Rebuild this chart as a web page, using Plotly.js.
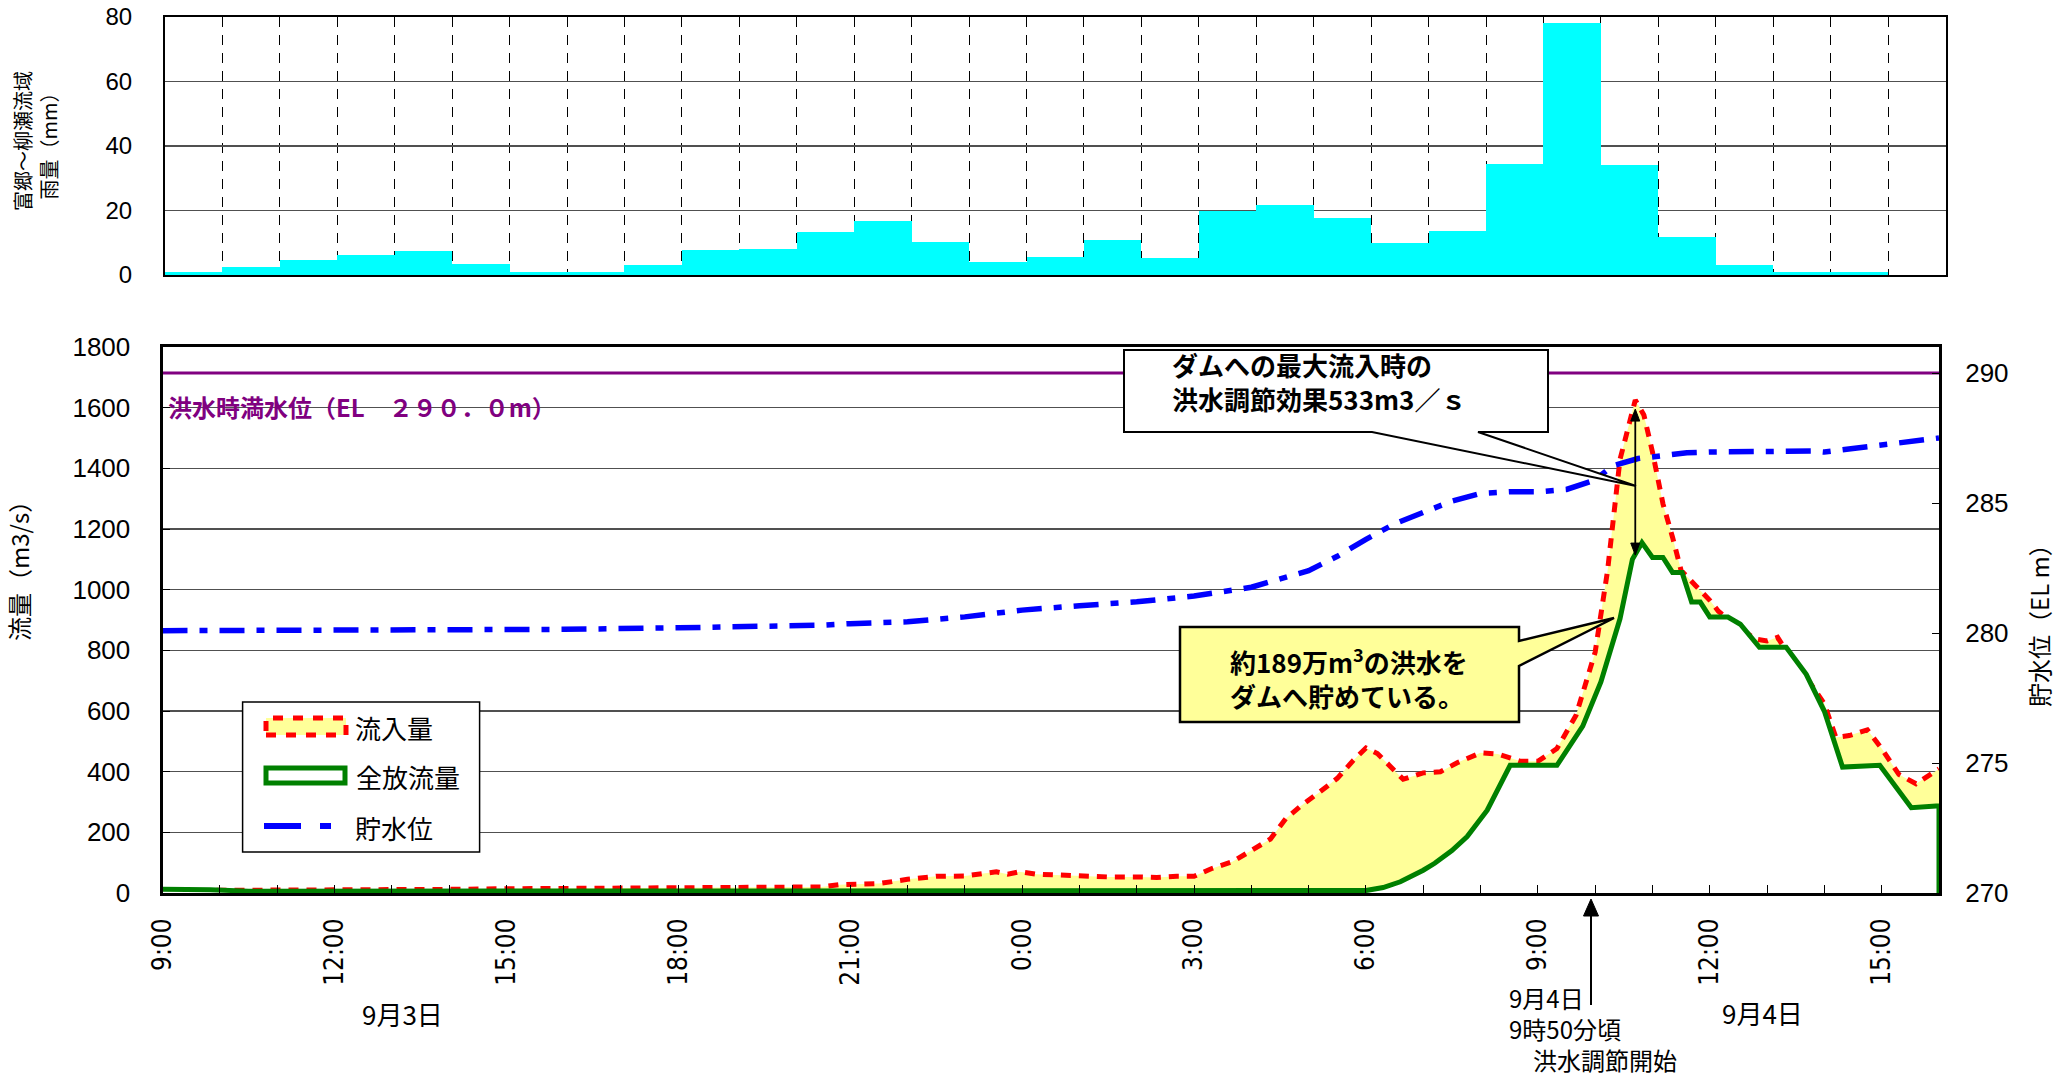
<!DOCTYPE html>
<html><head><meta charset="utf-8">
<script src="https://cdn.plot.ly/plotly-3.0.1.min.js"></script>
<style>html,body{margin:0;padding:0;background:#fff}#chart{width:2071px;height:1080px}</style>
</head><body><div id="chart"></div>
<script>
// ---------- data ----------
const rainTime = ["2005-09-03 09:00","2005-09-03 10:00","2005-09-03 11:00","2005-09-03 12:00","2005-09-03 13:00","2005-09-03 14:00","2005-09-03 15:00","2005-09-03 16:00","2005-09-03 17:00","2005-09-03 18:00","2005-09-03 19:00","2005-09-03 20:00","2005-09-03 21:00","2005-09-03 22:00","2005-09-03 23:00","2005-09-04 00:00","2005-09-04 01:00","2005-09-04 02:00","2005-09-04 03:00","2005-09-04 04:00","2005-09-04 05:00","2005-09-04 06:00","2005-09-04 07:00","2005-09-04 08:00","2005-09-04 09:00","2005-09-04 10:00","2005-09-04 11:00","2005-09-04 12:00","2005-09-04 13:00","2005-09-04 14:00","2005-09-04 15:00"];
const rainMm = [1,2.5,4.8,6.1,7.5,3.5,1,1,3,7.9,8.1,13.3,16.8,10.3,4.1,5.6,11,5.2,20,21.6,17.7,9.9,13.5,34.5,78,34.2,11.8,3,1,1,0];

const inflowTime = ["2005-09-03 09:00","2005-09-03 10:00","2005-09-03 11:00","2005-09-03 12:00","2005-09-03 13:00","2005-09-03 14:00","2005-09-03 15:00","2005-09-03 16:00","2005-09-03 17:00","2005-09-03 18:00","2005-09-03 19:00","2005-09-03 20:00","2005-09-03 20:30","2005-09-03 20:48","2005-09-03 21:00","2005-09-03 21:30","2005-09-03 22:00","2005-09-03 22:30","2005-09-03 23:00","2005-09-03 23:18","2005-09-03 23:33","2005-09-03 23:45","2005-09-03 23:57","2005-09-04 00:15","2005-09-04 00:36","2005-09-04 01:00","2005-09-04 01:30","2005-09-04 02:00","2005-09-04 02:21","2005-09-04 02:42","2005-09-04 03:00","2005-09-04 03:18","2005-09-04 03:40","2005-09-04 04:00","2005-09-04 04:20","2005-09-04 04:36","2005-09-04 04:51","2005-09-04 05:12","2005-09-04 05:30","2005-09-04 05:47","2005-09-04 06:00","2005-09-04 06:12","2005-09-04 06:27","2005-09-04 06:39","2005-09-04 07:00","2005-09-04 07:18","2005-09-04 07:36","2005-09-04 08:00","2005-09-04 08:18","2005-09-04 08:42","2005-09-04 09:00","2005-09-04 09:20","2005-09-04 09:40","2005-09-04 10:00","2005-09-04 10:13","2005-09-04 10:26","2005-09-04 10:42","2005-09-04 10:51","2005-09-04 11:00","2005-09-04 11:11","2005-09-04 11:21","2005-09-04 11:30","2005-09-04 11:45","2005-09-04 12:00","2005-09-04 12:09","2005-09-04 12:28","2005-09-04 12:48","2005-09-04 13:00","2005-09-04 13:11","2005-09-04 13:21","2005-09-04 13:39","2005-09-04 14:00","2005-09-04 14:12","2005-09-04 14:26","2005-09-04 14:45","2005-09-04 15:00","2005-09-04 15:18","2005-09-04 15:36","2005-09-04 16:00"];
const inflowQ = [8,8,10,10,11,12,14,15,15,16,17,17,20,27,28,31,45,55,56,62,70,62,70,62,59,56,53,53,51,55,55,80,103,140,178,245,285,334,378,438,478,460,410,375,396,400,430,462,458,434,434,476,586,794,1063,1429,1625,1576,1454,1283,1173,1063,1014,965,929,880,837,831,843,794,721,623,513,519,538,476,391,360,409];

const outflowTime = ["2005-09-03 09:00","2005-09-03 09:50","2005-09-03 10:30","2005-09-04 06:00","2005-09-04 06:18","2005-09-04 06:36","2005-09-04 07:00","2005-09-04 07:12","2005-09-04 07:30","2005-09-04 07:46","2005-09-04 08:07","2005-09-04 08:18","2005-09-04 08:31","2005-09-04 09:20","2005-09-04 09:47","2005-09-04 10:06","2005-09-04 10:26","2005-09-04 10:39","2005-09-04 10:49","2005-09-04 11:00","2005-09-04 11:11","2005-09-04 11:21","2005-09-04 11:31","2005-09-04 11:41","2005-09-04 11:50","2005-09-04 12:00","2005-09-04 12:19","2005-09-04 12:32","2005-09-04 12:52","2005-09-04 13:20","2005-09-04 13:41","2005-09-04 14:00","2005-09-04 14:19","2005-09-04 14:58","2005-09-04 15:31","2005-09-04 15:57","2005-09-04 16:00","2005-09-04 16:00"];
const outflowQ = [12,11,6,8,18,37,75,98,140,186,273,345,421,421,550,696,904,1100,1155,1106,1106,1057,1057,959,959,910,910,886,810,810,721,599,415,421,281,287,287,0];

const levelTime = ["2005-09-03 09:00","2005-09-03 13:30","2005-09-03 14:00","2005-09-03 16:00","2005-09-03 18:00","2005-09-03 19:30","2005-09-03 20:30","2005-09-03 21:00","2005-09-03 22:00","2005-09-03 23:00","2005-09-04 00:00","2005-09-04 01:00","2005-09-04 02:00","2005-09-04 03:00","2005-09-04 04:00","2005-09-04 05:00","2005-09-04 05:30","2005-09-04 06:00","2005-09-04 06:30","2005-09-04 07:00","2005-09-04 07:30","2005-09-04 08:00","2005-09-04 08:30","2005-09-04 09:00","2005-09-04 09:30","2005-09-04 10:00","2005-09-04 10:18","2005-09-04 10:45","2005-09-04 11:00","2005-09-04 11:36","2005-09-04 12:00","2005-09-04 13:00","2005-09-04 13:48","2005-09-04 14:00","2005-09-04 15:00","2005-09-04 16:00"];
const levelEL = [280.09,280.09,280.12,280.14,280.2,280.25,280.3,280.36,280.43,280.62,280.88,281.05,281.2,281.42,281.76,282.4,282.95,283.6,284.2,284.64,285.07,285.37,285.43,285.43,285.52,285.89,286.43,286.71,286.79,286.93,286.96,287.0,287.0,286.96,287.24,287.5];

const fullLevelEL = 290;
const xTickVals = ["2005-09-03 09:00","2005-09-03 12:00","2005-09-03 15:00","2005-09-03 18:00","2005-09-03 21:00","2005-09-04 00:00","2005-09-04 03:00","2005-09-04 06:00","2005-09-04 09:00","2005-09-04 12:00","2005-09-04 15:00"];
const xTickText = ["9:00","12:00","15:00","18:00","21:00","0:00","3:00","6:00","9:00","12:00","15:00"];
const xRange = ["2005-09-03 09:00","2005-09-04 16:00"];
const arrowBottomQ = 1114;

// ---------- layout helpers ----------
const W = 2071, H = 1080;
const X = p => p / W;
const Y = p => 1 - p / H;
const JP = "Noto Sans CJK JP, Noto Sans CJK SC, sans-serif";
const NUM = "Liberation Sans, Arial, sans-serif";
const NARROW = "Liberation Sans Narrow, DejaVu Sans Condensed, Liberation Sans, sans-serif";

const traces = [
  {type:'bar', x: rainTime, y: rainMm, xaxis:'x2', yaxis:'y3', offset:0, width:3600000,
   marker:{color:'#00FFFF', line:{width:0}}, hoverinfo:'skip'},
  {type:'scatter', mode:'lines', x: inflowTime, y: inflowQ, xaxis:'x', yaxis:'y',
   fill:'tozeroy', fillcolor:'#FFFF99', line:{color:'#FF0000', width:5, dash:'10px,8px'}, hoverinfo:'skip'},
  {type:'scatter', mode:'lines', x: outflowTime, y: outflowQ, xaxis:'x', yaxis:'y',
   fill:'tozeroy', fillcolor:'#FFFFFF', line:{color:'#008000', width:5}, hoverinfo:'skip'},
  {type:'scatter', mode:'lines', x: levelTime, y: levelEL, xaxis:'x', yaxis:'y2',
   line:{color:'#0000FF', width:5.5, dash:'25px,12px,8px,12px'}, hoverinfo:'skip'}
];

// peak of inflow for the double arrow
let pk = 0;
inflowQ.forEach((v,i)=>{ if (v > inflowQ[pk]) pk = i; });
const pkT = inflowTime[pk], pkQ = inflowQ[pk];

const box1 = `M${X(1124)},${Y(350)} L${X(1548)},${Y(350)} L${X(1548)},${Y(432)} L${X(1478)},${Y(432)} L${X(1636)},${Y(486)} L${X(1372)},${Y(432)} L${X(1124)},${Y(432)} Z`;
const box2 = `M${X(1180)},${Y(627)} L${X(1519)},${Y(627)} L${X(1519)},${Y(641)} L${X(1614)},${Y(618)} L${X(1519)},${Y(666)} L${X(1519)},${Y(722)} L${X(1180)},${Y(722)} Z`;
const fcArrowHead = `M${X(1591)},${Y(899)} L${X(1583.5)},${Y(916)} L${X(1598.5)},${Y(916)} Z`;

const shapes = [
  {type:'line', xref:'x domain', x0:0, x1:1, yref:'y2', y0:fullLevelEL, y1:fullLevelEL, line:{color:'#800080', width:3}, layer:'below'},
  {type:'path', xref:'paper', yref:'paper', path: box1, fillcolor:'#FFFFFF', line:{color:'#000', width:2}},
  {type:'path', xref:'paper', yref:'paper', path: box2, fillcolor:'#FFFF99', line:{color:'#000', width:2.5}},
  // double arrow at the inflow peak
  {type:'line', xref:'x', x0:pkT, x1:pkT, yref:'y', y0:pkQ - 40, y1:arrowBottomQ + 20, line:{color:'#000', width:1.8}},
  {type:'path', xref:'x', xsizemode:'pixel', xanchor:pkT, yref:'y', ysizemode:'pixel', yanchor:pkQ,
   path:'M0,-9 L-4.5,-21 L4.5,-21 Z', fillcolor:'#000', line:{color:'#000', width:1}},
  {type:'path', xref:'x', xsizemode:'pixel', xanchor:pkT, yref:'y', ysizemode:'pixel', yanchor:arrowBottomQ,
   path:'M0,0 L-4.5,12 L4.5,12 Z', fillcolor:'#000', line:{color:'#000', width:1}},
  // flood-control-start arrow
  {type:'line', xref:'paper', yref:'paper', x0:X(1591), x1:X(1591), y0:Y(1005), y1:Y(912), line:{color:'#000', width:2}},
  {type:'path', xref:'paper', yref:'paper', path: fcArrowHead, fillcolor:'#000', line:{color:'#000', width:1}},
  // legend box
  {type:'rect', xref:'paper', yref:'paper', x0:X(242.6), x1:X(479.6), y0:Y(852), y1:Y(702), fillcolor:'#FFFFFF', line:{color:'#000', width:1.5}},
  {type:'rect', xref:'paper', yref:'paper', x0:X(266), x1:X(346), y0:Y(735), y1:Y(718), fillcolor:'#FFFF99', line:{color:'#FF0000', width:5, dash:'10px,10px'}},
  {type:'rect', xref:'paper', yref:'paper', x0:X(266), x1:X(345), y0:Y(783), y1:Y(768), fillcolor:'#FFFFFF', line:{color:'#008000', width:5}},
  {type:'line', xref:'paper', yref:'paper', x0:X(264), x1:X(301), y0:Y(826), y1:Y(826), line:{color:'#0000FF', width:6}},
  {type:'line', xref:'paper', yref:'paper', x0:X(320), x1:X(331), y0:Y(826), y1:Y(826), line:{color:'#0000FF', width:6}}
];

function txt(text, x, y, opts) {
  return Object.assign({xref:'paper', yref:'paper', x:X(x), y:Y(y), text:text, showarrow:false,
    xanchor:'left', yanchor:'middle', align:'left', font:{family:JP, size:26, color:'#000'}}, opts || {});
}
const bold26 = {family:JP, size:26, color:'#000', weight:'bold'};

const annotations = [
  txt('洪水時満水位（EL　２９０．０m）', 166, 406, {font:{family:JP, size:24, color:'#800080', weight:'bold'}}),
  txt('ダムへの最大流入時の<br>洪水調節効果533m3／ｓ', 1170, 382, {font:bold26}),
  txt('約189万m<sup>3</sup>の洪水を<br>ダムへ貯めている。', 1228, 677, {font:bold26}),
  txt('流入量', 353, 727),
  txt('全放流量', 354, 776),
  txt('貯水位', 353, 827),
  txt('9月3日', 402, 1013, {xanchor:'center'}),
  txt('9月4日', 1762, 1012, {xanchor:'center'}),
  txt('9月4日<br>9時50分頃<br>　洪水調節開始', 1507, 1079, {yanchor:'bottom', font:{family:JP, size:24, color:'#000'}}),
  txt('流量（m3/s）', 18, 565, {xanchor:'center', textangle:-90, font:{family:JP, size:24, color:'#000'}}),
  txt('貯水位（EL m）', 2038, 620, {xanchor:'center', textangle:-90, font:{family:JP, size:24, color:'#000'}}),
  txt('富郷～柳瀬流域<br>雨量（mm）', 36, 141, {xanchor:'center', align:'center', textangle:-90, font:{family:JP, size:20, color:'#000'}})
];

const layout = {
  width: W, height: H,
  margin: {l:0, r:0, t:0, b:0},
  paper_bgcolor:'#FFFFFF', plot_bgcolor:'rgba(0,0,0,0)',
  showlegend:false,
  font:{family:JP, color:'#000'},
  bargap:0,
  xaxis: {domain:[X(162.5), X(1939)], anchor:'y', type:'date', range:xRange,
    tickmode:'array', tickvals:xTickVals, ticktext:xTickText, tickangle:-90,
    ticks:'inside', ticklen:8, tickcolor:'#000', tickwidth:1,
    minor:{tickmode:'linear', tick0:xRange[0], dtick:3600000, ticks:'inside', ticklen:8, tickcolor:'#000', tickwidth:1, showgrid:false},
    showgrid:false, zeroline:false, showline:true, linecolor:'#000', linewidth:3, mirror:true,
    tickfont:{family:NARROW, size:26, color:'#000'}, ticklabelstandoff:12},
  yaxis: {domain:[Y(893), Y(347)], anchor:'x', range:[0,1800], tick0:0, dtick:200,
    showgrid:true, gridcolor:'#505050', gridwidth:1.5, zeroline:false,
    ticks:'inside', ticklen:7, tickcolor:'#000', showline:true, linecolor:'#000', linewidth:3,
    tickfont:{family:NUM, size:26, color:'#000'}, ticklabelstandoff:24},
  yaxis2: {overlaying:'y', side:'right', anchor:'x', range:[270,291], tickmode:'array', tickvals:[270,275,280,285,290],
    showgrid:false, zeroline:false, ticks:'inside', ticklen:7, tickcolor:'#000', showline:true, linecolor:'#000', linewidth:3,
    tickfont:{family:NUM, size:26, color:'#000'}, ticklabelstandoff:18},
  xaxis2: {domain:[X(165), X(1945.5)], anchor:'y3', type:'date', range:xRange, tick0:xRange[0], dtick:3600000,
    showticklabels:false, ticks:'', showgrid:true, gridcolor:'#000', gridwidth:1, griddash:'10px,8px',
    zeroline:false, showline:true, linecolor:'#000', linewidth:2, mirror:true},
  yaxis3: {domain:[Y(275), Y(17)], anchor:'x2', range:[0,80], tick0:0, dtick:20,
    showgrid:true, gridcolor:'#505050', gridwidth:1.5, zeroline:false, ticks:'',
    showline:true, linecolor:'#000', linewidth:2, mirror:true,
    tickfont:{family:NUM, size:24, color:'#000'}, ticklabelstandoff:26},
  shapes: shapes,
  annotations: annotations
};

Plotly.newPlot('chart', traces, layout, {staticPlot:true, displayModeBar:false});
</script></body></html>
